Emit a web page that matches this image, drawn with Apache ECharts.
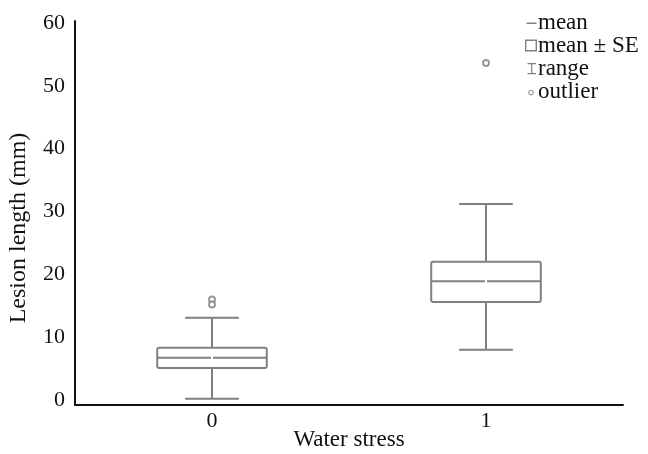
<!DOCTYPE html>
<html>
<head>
<meta charset="utf-8">
<script src="https://cdn.jsdelivr.net/npm/echarts@6/dist/echarts.min.js"></script>
<style>
html,body{margin:0;padding:0;background:#fff;}
#chart{width:648px;height:454px;}
</style>
</head>
<body>
<div id="chart"></div>
<script>
// ---- data ----
var categories = ['0', '1'];
var means      = [6.7, 18.9];
var seLow      = [5.1, 15.6];
var seHigh     = [8.3, 22.0];
var rangeMin   = [0.2, 8.0];
var rangeMax   = [13.1, 31.2];
var outlierCat = [0, 0, 1];
var outlierVal = [16.0, 15.2, 53.6];
var yTicks     = [0, 10, 20, 30, 40, 50, 60];

var FONT = 'Liberation Serif';
var GRAY = '#808080';

var boxData = categories.map(function (c, i) { return [i, seLow[i], seHigh[i]]; });
var meanData = categories.map(function (c, i) { return [i, means[i]]; });
var rangeData = categories.map(function (c, i) { return [i, rangeMin[i], rangeMax[i], seLow[i], seHigh[i]]; });
var outlierData = outlierCat.map(function (c, i) { return [c, outlierVal[i]]; });

var chart = echarts.init(document.getElementById('chart'), null, {renderer: 'canvas'});

function boxItem(params, api) {
  var x = api.value(0);
  var lo = api.coord([x, api.value(1)]);
  var hi = api.coord([x, api.value(2)]);
  var w = api.size([1, 0])[0] * 0.4;
  return {
    type: 'rect',
    shape: {x: lo[0] - w / 2, y: hi[1], width: w, height: lo[1] - hi[1], r: 2},
    style: {fill: 'none', stroke: GRAY, lineWidth: 2}
  };
}
function meanItem(params, api) {
  var x = api.value(0);
  var p = api.coord([x, api.value(1)]);
  var w = api.size([1, 0])[0] * 0.4;
  var st = {stroke: GRAY, lineWidth: 2};
  return {
    type: 'group',
    children: [
      {type: 'line', shape: {x1: p[0] - w / 2, y1: p[1], x2: p[0] - 1, y2: p[1]}, style: st},
      {type: 'line', shape: {x1: p[0] + 1, y1: p[1], x2: p[0] + w / 2, y2: p[1]}, style: st}
    ]
  };
}
function rangeItem(params, api) {
  var x = api.value(0);
  var mn = api.coord([x, api.value(1)]);
  var mx = api.coord([x, api.value(2)]);
  var lo = api.coord([x, api.value(3)]);
  var hi = api.coord([x, api.value(4)]);
  var cw = api.size([1, 0])[0] * 0.196;
  var st = {stroke: GRAY, lineWidth: 2};
  return {
    type: 'group',
    children: [
      {type: 'line', shape: {x1: mx[0], y1: mx[1], x2: hi[0], y2: hi[1]}, style: st},
      {type: 'line', shape: {x1: lo[0], y1: lo[1], x2: mn[0], y2: mn[1]}, style: st},
      {type: 'line', shape: {x1: mx[0] - cw / 2, y1: mx[1], x2: mx[0] + cw / 2, y2: mx[1]}, style: st},
      {type: 'line', shape: {x1: mn[0] - cw / 2, y1: mn[1], x2: mn[0] + cw / 2, y2: mn[1]}, style: st}
    ]
  };
}

// tiny corner dots fix every icon's bounding box to 12x12
var BB = ' M0,0h0.001v0.001h-0.001Z M12,12h0.001v0.001h-0.001Z';
var ICON_STYLE = {color: GRAY, borderWidth: 0, borderColor: 'transparent'};

var option = {
  backgroundColor: '#fff',
  animation: false,
  grid: {left: 75, right: 25, top: 21, bottom: 49, containLabel: false, outerBoundsMode: 'none'},
  legend: {
    orient: 'vertical',
    left: 520,
    top: 6,
    itemGap: 0,
    itemWidth: 12,
    itemHeight: 12,
    itemStyle: {borderWidth: 0},
    textStyle: {fontFamily: FONT, fontSize: 23, lineHeight: 22, color: '#111', padding: [0, 0, 0, -4]},
    data: [
      {name: 'mean', icon: 'path://M1.5,6H11.5V7.4H1.5Z' + BB, itemStyle: ICON_STYLE},
      {name: 'mean ± SE', icon: 'path://M0,0H12V12H0Z M1.4,1.4V10.6H10.6V1.4Z' + BB, itemStyle: ICON_STYLE},
      {name: 'range', icon: 'path://M2.5,0.5H11V1.7H7.3V10.5H11V11.7H2.5V10.5H6.1V1.7H2.5Z' + BB, itemStyle: ICON_STYLE},
      {name: 'outlier', icon: 'path://M3.2,7A2.8,2.8 0 1,1 8.8,7A2.8,2.8 0 1,1 3.2,7Z M4.3,7A1.7,1.7 0 1,0 7.7,7A1.7,1.7 0 1,0 4.3,7Z' + BB, itemStyle: ICON_STYLE}
    ]
  },
  xAxis: {
    type: 'category',
    data: categories,
    boundaryGap: true,
    name: 'Water stress',
    nameLocation: 'middle',
    nameGap: 23,
    nameMoveOverlap: false,
    nameTextStyle: {fontFamily: FONT, fontSize: 23, color: '#111'},
    axisLine: {onZero: false, lineStyle: {color: '#111', width: 2}},
    axisTick: {show: false},
    axisLabel: {fontFamily: FONT, fontSize: 22, color: '#111', margin: 5},
    splitLine: {show: false}
  },
  yAxis: {
    type: 'value',
    min: -0.8,
    max: 60.3,
    name: 'Lesion length (mm)',
    nameLocation: 'middle',
    nameGap: 44,
    nameMoveOverlap: false,
    nameTextStyle: {fontFamily: FONT, fontSize: 24, color: '#111', padding: [0, 30, 0, 0]},
    axisLine: {show: true, onZero: false, lineStyle: {color: '#111', width: 2}},
    axisTick: {show: false},
    axisLabel: {fontFamily: FONT, fontSize: 22, color: '#111', margin: 10, customValues: yTicks},
    splitLine: {show: false}
  },
  series: [
    {name: 'range', type: 'custom', renderItem: rangeItem, data: rangeData, itemStyle: {color: GRAY},
     encode: {x: 0, y: [1, 2]}, z: 2},
    {name: 'mean ± SE', type: 'custom', renderItem: boxItem, data: boxData, itemStyle: {color: GRAY},
     encode: {x: 0, y: [1, 2]}, z: 3},
    {name: 'mean', type: 'custom', renderItem: meanItem, data: meanData, itemStyle: {color: GRAY},
     encode: {x: 0, y: 1}, z: 4},
    {name: 'outlier', type: 'scatter', data: outlierData, symbol: 'emptyCircle', symbolSize: 6,
     itemStyle: {color: GRAY, borderColor: GRAY, borderWidth: 1.3}, z: 5}
  ]
};
chart.setOption(option);
</script>
</body>
</html>
